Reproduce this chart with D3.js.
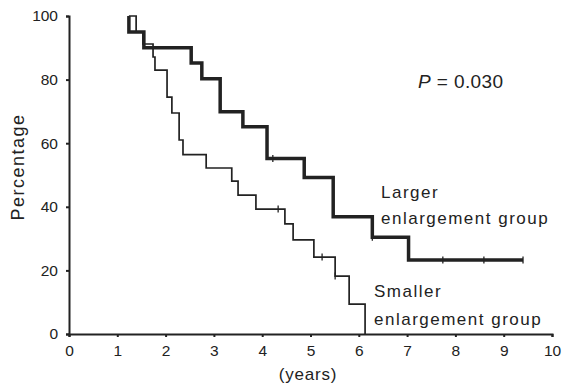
<!DOCTYPE html>
<html><head><meta charset="utf-8">
<script src="https://cdn.jsdelivr.net/npm/d3@7"></script>
<style>body{margin:0;background:#fff}svg{display:block}text{font-family:"Liberation Sans",Arial,sans-serif;fill:#222}</style>
</head><body><svg id="c" width="565" height="389"></svg>
<script>
const xTicks = [0,1,2,3,4,5,6,7,8,9,10];
const yTicks = [0,20,40,60,80,100];
const largerTimes = [1.24, 1.24, 1.55, 2.53, 2.75, 3.13, 3.60, 4.10, 4.87, 5.47, 6.28, 7.03, 9.40];
const largerSurv  = [100, 95, 90, 85.2, 80.3, 69.9, 65.2, 55.2, 49.2, 36.9, 30.4, 23.3, 23.3];
const largerCensorT = [4.22, 6.28, 7.74, 8.59, 9.40];
const largerCensorS = [55.2, 30.4, 23.3, 23.3, 23.3];
const smallerTimes = [1.24, 1.39, 1.53, 1.74, 1.78, 2.03, 2.13, 2.28, 2.36, 2.84, 3.37, 3.50, 3.87, 4.47, 4.64, 5.07, 5.51, 5.80, 6.13];
const smallerSurv  = [100, 95, 91.2, 87.1, 83.0, 74.5, 69.5, 61.0, 56.4, 52.2, 48.1, 43.7, 39.3, 34.6, 29.6, 24.2, 18.2, 9.4, 0];
const smallerCensorT = [4.33, 5.24, 5.51];
const smallerCensorS = [39.3, 24.2, 18.2];

const svg = d3.select("#c");
const x = d3.scaleLinear().domain([0,10]).range([69,552]);
const y = d3.scaleLinear().domain([0,100]).range([334,16]);

const ink = "#222";
const xAxis = svg.append("g").attr("transform","translate(0,334)")
  .call(d3.axisBottom(x).tickValues(xTicks).tickSize(3).tickPadding(8));
const yAxis = svg.append("g").attr("transform","translate(69,0)")
  .call(d3.axisLeft(y).tickValues(yTicks).tickSize(3).tickPadding(8));
[xAxis,yAxis].forEach(a=>{
  a.select(".domain").attr("stroke",ink).attr("stroke-width",2);
  a.selectAll(".tick line").attr("stroke",ink).attr("stroke-width",2);
  a.selectAll(".tick text").attr("font-size",15.5).attr("fill",ink)
   .style("font-family","'Liberation Sans',Arial,sans-serif");
});

const line = d3.line().x(d=>x(d[0])).y(d=>y(d[1])).curve(d3.curveStepAfter);
function curve(ts, ss, w){
  const pts = ts.map((t,i)=>[t,ss[i]]);
  svg.append("path").attr("d",line(pts)).attr("fill","none")
    .attr("stroke",ink).attr("stroke-width",w).attr("stroke-linejoin","miter");
}
function censors(ts, ss, w){
  svg.append("g").selectAll("line").data(ts.map((t,i)=>[t,ss[i]])).join("line")
    .attr("x1",d=>x(d[0])).attr("x2",d=>x(d[0]))
    .attr("y1",d=>y(d[1])-3.5).attr("y2",d=>y(d[1])+3.5)
    .attr("stroke",ink).attr("stroke-width",w);
}
curve(smallerTimes, smallerSurv, 1.7);
censors(smallerCensorT, smallerCensorS, 1.3);
curve(largerTimes, largerSurv, 3.5);
censors(largerCensorT, largerCensorS, 1.3);

svg.append("text").attr("transform","translate(24,167) rotate(-90)")
  .attr("text-anchor","middle").attr("font-size",18).attr("letter-spacing",1.5).text("Percentage");
svg.append("text").attr("x",308).attr("y",380).attr("text-anchor","middle")
  .attr("font-size",17).attr("letter-spacing",0.8).text("(years)");
const pt = svg.append("text").attr("x",418).attr("y",88).attr("font-size",19).attr("letter-spacing",0.4);
pt.append("tspan").attr("font-style","italic").text("P");
pt.append("tspan").text(" = 0.030");
function lbl(xp, yp, s){
  svg.append("text").attr("x",xp).attr("y",yp).attr("font-size",17)
    .attr("letter-spacing",1.5).text(s);
}
lbl(381,198,"Larger");
lbl(381,224,"enlargement group");
lbl(374,297,"Smaller");
lbl(374,325,"enlargement group");
</script></body></html>
